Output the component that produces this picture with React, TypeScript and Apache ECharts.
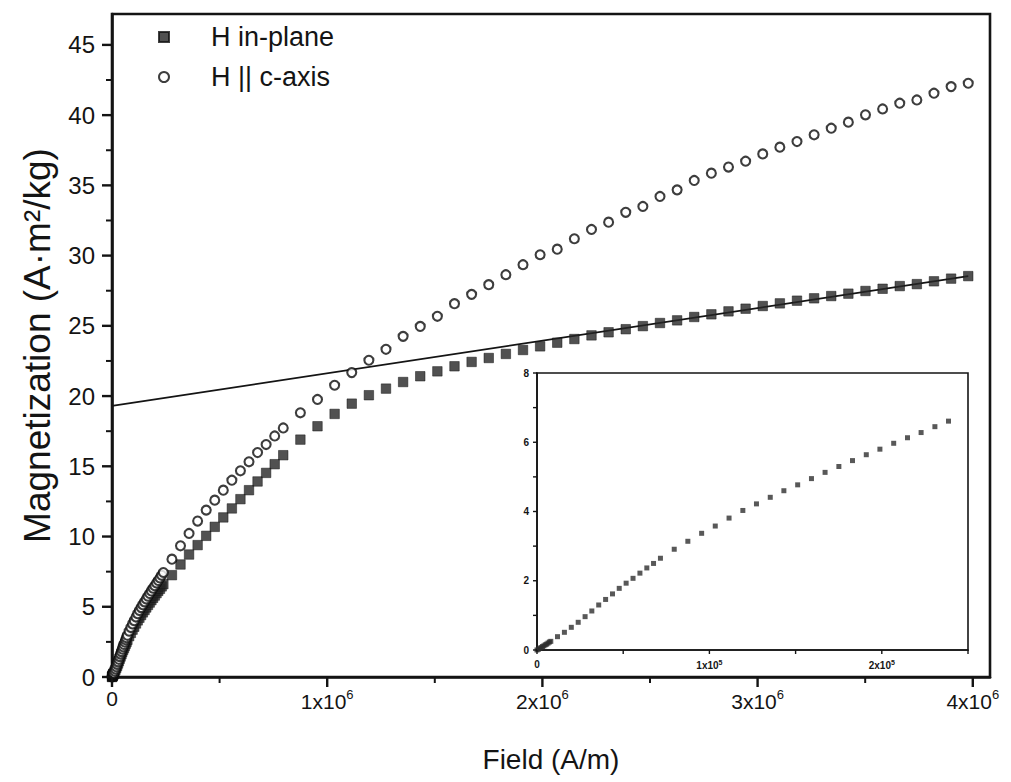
import React, { useEffect, useRef } from "react";
import * as echarts from "echarts";

// Applied field in A/m for the low-field sweep (0 – 3 kOe)
const lowField = [
  0, 800, 1600, 2400, 3200, 4000, 4800, 5600, 6400, 7200, 8000,
  11900, 15900, 19900, 23900, 27900, 31800, 35800, 39800, 43800, 47700, 51700,
  55700, 59700, 63700, 67600, 71600,
  79600, 87500, 95500, 103400, 111400, 119400, 127300, 135300, 143200, 151200,
  159200, 167100, 175100, 183000, 191000, 198900, 206900, 214900, 222800, 230800,
  238700,
];
// Magnetization (A·m²/kg), low-field sweep
const lowInPlane = [
  0, 0.02, 0.05, 0.07, 0.1, 0.12, 0.15, 0.17, 0.2, 0.23, 0.25,
  0.385, 0.511, 0.655, 0.8, 0.963, 1.127, 1.3, 1.46, 1.62, 1.78, 1.93,
  2.07, 2.22, 2.37, 2.5, 2.65,
  2.91, 3.14, 3.37, 3.58, 3.81, 4.03, 4.22, 4.41, 4.6, 4.77,
  4.95, 5.13, 5.3, 5.47, 5.64, 5.8, 5.97, 6.13, 6.28, 6.45,
  6.61,
];
const lowCAxis = [
  0, 0.03, 0.05, 0.08, 0.11, 0.14, 0.17, 0.2, 0.23, 0.26, 0.29,
  0.43, 0.57, 0.73, 0.9, 1.08, 1.26, 1.45, 1.63, 1.81, 1.99, 2.16,
  2.32, 2.49, 2.65, 2.8, 2.97,
  3.26, 3.52, 3.78, 4.01, 4.27, 4.51, 4.73, 4.94, 5.15, 5.35,
  5.55, 5.75, 5.94, 6.13, 6.32, 6.5, 6.69, 6.87, 7.05, 7.24,
  7.44,
];

// Applied field in A/m for the high-field sweep (3.5 – 50 kOe)
const highField = [
  278500, 318300, 358100, 397900, 437700, 477500, 517200, 557000, 596800, 636600,
  676400, 716200, 756000, 795800,
  875400, 954900, 1034500, 1114100, 1193700, 1273200, 1352800, 1432400, 1512000, 1591500,
  1671100, 1750700, 1830300, 1909900, 1989400, 2069000, 2148600, 2228200, 2307700, 2387300,
  2466900, 2546500, 2626100, 2705600, 2785200, 2864800, 2944400, 3023900, 3103500, 3183100,
  3262700, 3342300, 3421800, 3501400, 3581000, 3660600, 3740100, 3819700, 3899300, 3978900,
];
const highInPlane = [
  7.25, 8.01, 8.72, 9.39, 10.05, 10.69, 11.36, 12.0, 12.66, 13.3,
  13.92, 14.53, 15.15, 15.79,
  16.9, 17.85, 18.73, 19.46, 20.06, 20.53, 21.0, 21.41, 21.76, 22.12,
  22.43, 22.71, 23.0, 23.28, 23.54, 23.8, 24.06, 24.32, 24.54, 24.76,
  24.98, 25.2, 25.39, 25.63, 25.82, 26.03, 26.22, 26.41, 26.6, 26.79,
  26.96, 27.12, 27.29, 27.48, 27.64, 27.83, 27.97, 28.17, 28.36, 28.54,
];
const highCAxis = [
  8.39, 9.34, 10.22, 11.1, 11.88, 12.59, 13.3, 14.01, 14.68, 15.32,
  15.98, 16.55, 17.16, 17.73,
  18.81, 19.76, 20.77, 21.67, 22.55, 23.33, 24.25, 24.96, 25.68, 26.58,
  27.24, 27.93, 28.64, 29.35, 30.06, 30.46, 31.2, 31.86, 32.38, 33.08,
  33.5, 34.21, 34.68, 35.35, 35.87, 36.3, 36.72, 37.24, 37.72, 38.12,
  38.6, 39.07, 39.5, 40.02, 40.44, 40.85, 41.08, 41.56, 42.03, 42.27,
];

// High-field linear extrapolation of the in-plane branch
const fitField = [0, 3978900];
const fitM = [19.3, 28.54];

// Tick positions (axis units)
const mainXMajor = [0, 1000000, 2000000, 3000000, 4000000];
const mainXMinor = [500000, 1500000, 2500000, 3500000];
const mainYMajor = [0, 5, 10, 15, 20, 25, 30, 35, 40, 45];
const mainYMinor = [2.5, 7.5, 12.5, 17.5, 22.5, 27.5, 32.5, 37.5, 42.5];
const insetXTicks = [0, 50000, 100000, 150000, 200000, 250000];
const insetYTicks = [0, 1, 2, 3, 4, 5, 6, 7, 8];

const legendNames = ["H in-plane", "H || c-axis"];

const FONT = "'Liberation Sans', Arial, Helvetica, sans-serif";
const INK = "#141414";

const pairs = (xs: number[], ys: number[]) => xs.map((x, i) => [x, ys[i]]);

// "n x 10^e" tick labels with a raised exponent
const powerLabel = (step: number, exp: number) => (v: number) => {
  if (v === 0) return "0";
  const k = Math.round(v / step);
  if (Math.abs(v - k * step) > step * 1e-6) return "";
  return `{m|${k}x10}{s|${exp}}`;
};
const multipleLabel = (step: number) => (v: number) => {
  const k = Math.round(v / step);
  if (Math.abs(v - k * step) > step * 1e-6) return "";
  return String(k * step);
};

export default function App() {
  const ref = useRef<HTMLDivElement>(null);

  useEffect(() => {
    if (!ref.current) return;
    const chart = echarts.init(ref.current, undefined, { renderer: "svg" });

    const mainGrid = { left: 112, top: 14, right: 21, bottom: 105 };
    const insetGrid = { left: 537, top: 373, right: 43, bottom: 132 };

    const option: any = {
      animation: false,
      backgroundColor: "#ffffff",
      textStyle: { fontFamily: FONT, color: INK },
      grid: [
        { ...mainGrid, show: true, borderColor: INK, borderWidth: 2.6, backgroundColor: "transparent" },
        { ...insetGrid, show: true, borderColor: INK, borderWidth: 1.6, backgroundColor: "#ffffff" },
      ],
      legend: {
        data: legendNames,
        orient: "vertical",
        left: 153,
        top: 18,
        itemWidth: 10,
        itemHeight: 10,
        itemGap: 12,
        textStyle: {
          fontFamily: FONT,
          fontSize: 27,
          lineHeight: 28,
          color: INK,
          padding: [0, 0, 0, 37],
        },
      },
      xAxis: [
        {
          gridIndex: 0,
          type: "value",
          min: 0,
          max: 4080000,
          interval: 1000000,
          axisLine: { show: true, onZero: false, lineStyle: { color: INK, width: 2.6 } },
          axisTick: { show: false },
          axisLabel: {
            margin: 11,
            formatter: powerLabel(1000000, 6),
            showMaxLabel: false,
            rich: {
              m: { fontFamily: FONT, fontSize: 21, lineHeight: 26, color: INK },
              s: { fontFamily: FONT, fontSize: 13, lineHeight: 14, verticalAlign: "top", color: INK },
            },
            fontFamily: FONT,
            fontSize: 21,
            color: INK,
          },
          splitLine: { show: false },
          name: "Field (A/m)",
          nameLocation: "middle",
          nameGap: 68,
          nameTextStyle: { fontFamily: FONT, fontSize: 28, color: INK },
        },
        {
          gridIndex: 1,
          type: "value",
          min: 0,
          max: 250000,
          interval: 100000,
          axisLine: { show: true, onZero: false, lineStyle: { color: INK, width: 1.6 } },
          axisTick: { show: false },
          axisLabel: {
            margin: 9,
            formatter: powerLabel(100000, 5),
            showMaxLabel: false,
            rich: {
              m: { fontFamily: FONT, fontSize: 10, fontWeight: "bold", lineHeight: 13, color: INK },
              s: { fontFamily: FONT, fontSize: 7, fontWeight: "bold", lineHeight: 8, verticalAlign: "top", color: INK },
            },
            fontFamily: FONT,
            fontSize: 10,
            fontWeight: "bold",
            color: INK,
          },
          splitLine: { show: false },
        },
      ],
      yAxis: [
        {
          gridIndex: 0,
          type: "value",
          min: 0,
          max: 47.2,
          interval: 5,
          axisLine: { show: true, onZero: false, lineStyle: { color: INK, width: 2.6 } },
          axisTick: { show: false },
          axisLabel: {
            margin: 17,
            formatter: multipleLabel(5),
            showMaxLabel: false,
            fontFamily: FONT,
            fontSize: 24,
            color: INK,
          },
          splitLine: { show: false },
          name: "Magnetization (A·m²/kg)",
          nameLocation: "middle",
          nameGap: 56,
          nameTextStyle: { fontFamily: FONT, fontSize: 37, color: INK },
        },
        {
          gridIndex: 1,
          type: "value",
          min: 0,
          max: 8,
          interval: 2,
          axisLine: { show: true, onZero: false, lineStyle: { color: INK, width: 1.6 } },
          axisTick: { show: false },
          axisLabel: {
            margin: 8,
            formatter: multipleLabel(2),
            fontFamily: FONT,
            fontSize: 10,
            fontWeight: "bold",
            color: INK,
          },
          splitLine: { show: false },
        },
      ],
      series: [
        {
          name: "fit",
          type: "line",
          xAxisIndex: 0,
          yAxisIndex: 0,
          data: pairs(fitField, fitM),
          showSymbol: false,
          symbol: "none",
          lineStyle: { color: INK, width: 1.7 },
          silent: true,
          z: 1,
        },
        {
          name: "H in-plane",
          type: "scatter",
          xAxisIndex: 0,
          yAxisIndex: 0,
          symbol: "rect",
          symbolSize: 9.5,
          itemStyle: { color: "#262626", borderColor: "#111111", borderWidth: 0.6 },
          data: pairs(lowField.concat(highField), lowInPlane.concat(highInPlane)),
          z: 3,
        },
        {
          name: "H || c-axis",
          type: "scatter",
          xAxisIndex: 0,
          yAxisIndex: 0,
          symbol: "circle",
          symbolSize: 9,
          itemStyle: { color: "#ffffff", borderColor: "#0d0d0d", borderWidth: 2.1 },
          data: pairs(lowField.concat(highField), lowCAxis.concat(highCAxis)),
          z: 3,
        },
        {
          name: "inset in-plane",
          type: "scatter",
          xAxisIndex: 1,
          yAxisIndex: 1,
          symbol: "rect",
          symbolSize: 5,
          itemStyle: { color: "#2e2e2e" },
          data: pairs(lowField, lowInPlane),
          z: 6,
        },
      ],
    };

    chart.setOption(option);

    // Outward tick marks, placed through each axis' own scale
    const px = (v: number, xIdx: number) => chart.convertToPixel({ xAxisIndex: xIdx } as any, v) as number;
    const py = (v: number, yIdx: number) => chart.convertToPixel({ yAxisIndex: yIdx } as any, v) as number;
    const ticks: any[] = [];
    const xTicks = (vals: number[], axis: number, len: number, width: number) => {
      const y0 = py(0, axis);
      vals.forEach((v) => {
        const x = px(v, axis);
        ticks.push({
          type: "line",
          silent: true,
          z: 100,
          shape: { x1: x, y1: y0, x2: x, y2: y0 + len },
          style: { stroke: INK, lineWidth: width },
        });
      });
    };
    const yTicks = (vals: number[], axis: number, len: number, width: number) => {
      const x0 = px(0, axis);
      vals.forEach((v) => {
        const y = py(v, axis);
        ticks.push({
          type: "line",
          silent: true,
          z: 100,
          shape: { x1: x0 - len, y1: y, x2: x0, y2: y },
          style: { stroke: INK, lineWidth: width },
        });
      });
    };
    xTicks(mainXMajor, 0, 10, 2.4);
    xTicks(mainXMinor, 0, 6, 2);
    yTicks(mainYMajor, 0, 10, 2.4);
    yTicks(mainYMinor, 0, 6, 2);
    xTicks(insetXTicks, 1, 4, 1.4);
    yTicks(insetYTicks, 1, 4, 1.4);
    chart.setOption({ graphic: ticks });

    return () => chart.dispose();
  }, []);

  return (
    <div
      ref={ref}
      style={{ position: "fixed", left: 0, top: 0, width: 1011, height: 782, background: "#fff" }}
    />
  );
}
